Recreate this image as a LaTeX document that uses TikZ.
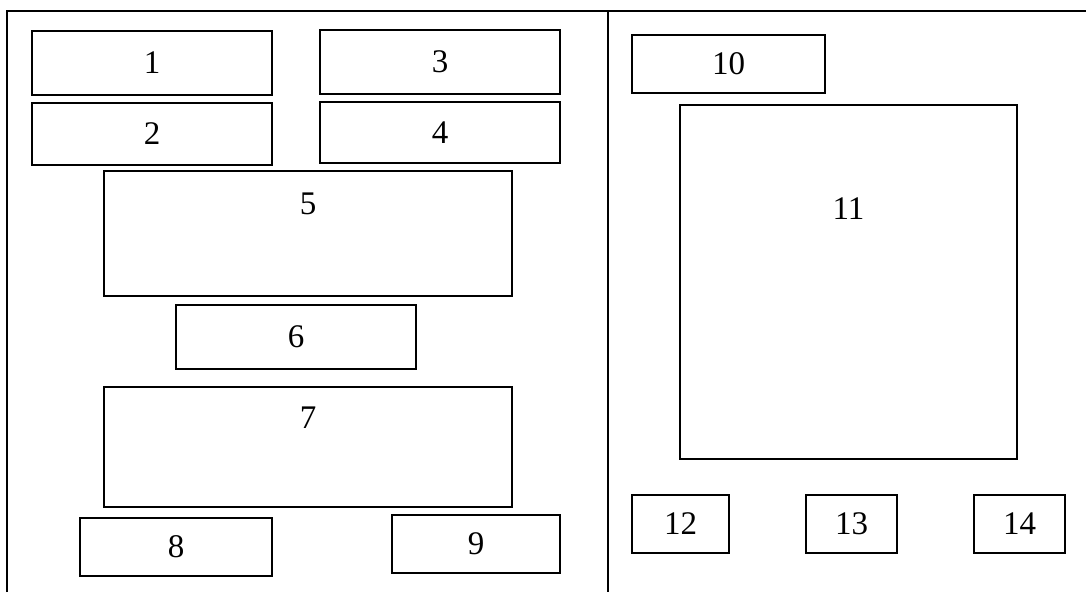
\documentclass[tikz,border=0pt]{standalone}
\usepackage{fontspec}
\setmainfont{Liberation Serif}
\usepackage{tikz}
\usetikzlibrary{positioning}
\tikzset{box/.style={draw,line width=1.2pt,inner sep=0pt}}

\begin{document}
\begin{tikzpicture}[x=1pt,y=-1pt,font=\fontsize{33}{40}\selectfont]
\useasboundingbox (0,0) rectangle (1086,592);
\coordinate (fl) at (7,592);
\coordinate (ftl) at (7,11);
\coordinate (ftr) at (1086,11);
\coordinate (dt) at (608,11);
\coordinate (db) at (608,592);
\draw[line width=1.2pt] (fl)--(ftl)--(ftr);
\draw[line width=1.2pt] (dt)--(db);
\node[box,minimum width=240,minimum height=64] (b1) at (152,63) {1};
\node[box,minimum width=240,minimum height=62] (b2) at (152,134) {2};
\node[box,minimum width=240,minimum height=64] (b3) at (440,62) {3};
\node[box,minimum width=240,minimum height=61] (b4) at (440,132.5) {4};
\node[box,minimum width=408,minimum height=125,label={[anchor=center,yshift=-33pt]north:5}] (b5) at (308,233.5) {};
\node[box,minimum width=240,minimum height=64] (b6) at (296,337) {6};
\node[box,minimum width=408,minimum height=120,label={[anchor=center,yshift=-31pt]north:7}] (b7) at (308,447) {};
\node[box,minimum width=192,minimum height=58] (b8) at (176,547) {8};
\node[box,minimum width=168,minimum height=58] (b9) at (476,544) {9};
\node[box,minimum width=193,minimum height=58] (b10) at (728.5,64) {10};
\node[box,minimum width=337,minimum height=354,label={[anchor=center,yshift=-104pt]north:11}] (b11) at (848.5,282) {};
\node[box,minimum width=97,minimum height=58] (b12) at (680.5,524) {12};
\node[box,minimum width=91,minimum height=58] (b13) at (851.5,524) {13};
\node[box,minimum width=91,minimum height=58] (b14) at (1019.5,524) {14};
\end{tikzpicture}
\end{document}
